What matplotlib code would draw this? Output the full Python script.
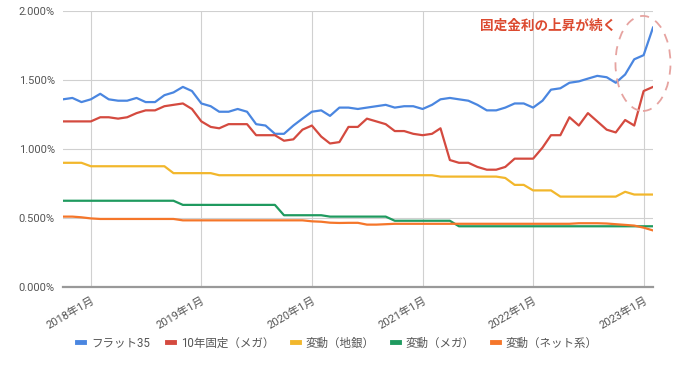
import numpy as np
import pandas as pd
import matplotlib
matplotlib.use("Agg")
import matplotlib.pyplot as plt
import matplotlib.dates as mdates
from matplotlib.patches import Ellipse

plt.rcParams['font.family'] = ['Roboto', 'Noto Sans CJK JP', 'DejaVu Sans']

# monthly, Oct 2017 - Feb 2023
start_month = '2017-10-01'

flat35 = [1.36, 1.37, 1.34, 1.36, 1.40, 1.36, 1.35, 1.35, 1.37, 1.34, 1.34, 1.39,
          1.41, 1.45, 1.42, 1.33, 1.31, 1.27, 1.27, 1.29, 1.27, 1.18, 1.17, 1.11,
          1.11, 1.17, 1.22, 1.27, 1.28, 1.24, 1.30, 1.30, 1.29, 1.30, 1.31, 1.32,
          1.30, 1.31, 1.31, 1.29, 1.32, 1.36, 1.37, 1.36, 1.35, 1.32, 1.28, 1.28,
          1.30, 1.33, 1.33, 1.30, 1.35, 1.43, 1.44, 1.48, 1.49, 1.51, 1.53, 1.52,
          1.48, 1.54, 1.65, 1.68, 1.88]

fixed10_mega = [1.20, 1.20, 1.20, 1.20, 1.23, 1.23, 1.22, 1.23, 1.26, 1.28, 1.28, 1.31,
                1.32, 1.33, 1.29, 1.20, 1.16, 1.15, 1.18, 1.18, 1.18, 1.10, 1.10, 1.10,
                1.06, 1.07, 1.14, 1.17, 1.09, 1.04, 1.05, 1.16, 1.16, 1.22, 1.20, 1.18,
                1.13, 1.13, 1.11, 1.10, 1.11, 1.15, 0.92, 0.90, 0.90, 0.87, 0.85, 0.85,
                0.87, 0.93, 0.93, 0.93, 1.01, 1.10, 1.10, 1.23, 1.17, 1.26, 1.20, 1.14,
                1.12, 1.21, 1.17, 1.42, 1.45]

var_chigin = [0.90, 0.90, 0.90, 0.875, 0.875, 0.875, 0.875, 0.875, 0.875, 0.875, 0.875, 0.875,
              0.825, 0.825, 0.825, 0.825, 0.825, 0.81, 0.81, 0.81, 0.81, 0.81, 0.81, 0.81,
              0.81, 0.81, 0.81, 0.81, 0.81, 0.81, 0.81, 0.81, 0.81, 0.81, 0.81, 0.81,
              0.81, 0.81, 0.81, 0.81, 0.81, 0.80, 0.80, 0.80, 0.80, 0.80, 0.80, 0.80,
              0.79, 0.74, 0.74, 0.70, 0.70, 0.70, 0.655, 0.655, 0.655, 0.655, 0.655, 0.655,
              0.655, 0.69, 0.67, 0.67, 0.67]

var_mega = [0.625, 0.625, 0.625, 0.625, 0.625, 0.625, 0.625, 0.625, 0.625, 0.625, 0.625, 0.625,
            0.625, 0.595, 0.595, 0.595, 0.595, 0.595, 0.595, 0.595, 0.595, 0.595, 0.595, 0.595,
            0.52, 0.52, 0.52, 0.52, 0.52, 0.51, 0.51, 0.51, 0.51, 0.51, 0.51, 0.51,
            0.48, 0.48, 0.48, 0.48, 0.48, 0.48, 0.48, 0.44, 0.44, 0.44, 0.44, 0.44,
            0.44, 0.44, 0.44, 0.44, 0.44, 0.44, 0.44, 0.44, 0.44, 0.44, 0.44, 0.44,
            0.44, 0.44, 0.44, 0.44, 0.44]

var_net = [0.51, 0.51, 0.505, 0.497, 0.493, 0.493, 0.493, 0.493, 0.493, 0.493, 0.493, 0.493,
           0.493, 0.483, 0.483, 0.483, 0.483, 0.483, 0.483, 0.483, 0.483, 0.483, 0.483, 0.483,
           0.483, 0.483, 0.483, 0.476, 0.473, 0.466, 0.464, 0.465, 0.465, 0.452, 0.452, 0.455,
           0.458, 0.458, 0.458, 0.458, 0.458, 0.458, 0.458, 0.458, 0.458, 0.458, 0.458, 0.458,
           0.458, 0.458, 0.458, 0.458, 0.458, 0.458, 0.458, 0.458, 0.462, 0.462, 0.462, 0.46,
           0.455, 0.45, 0.445, 0.43, 0.41]

labels = ['フラット35', '10年固定（メガ）', '変動（地銀）', '変動（メガ）', '変動（ネット系）']
colors = ['#4a86e0', '#d44a3f', '#f2b72c', '#1f9a5f', '#f5762a']
series = [flat35, fixed10_mega, var_chigin, var_mega, var_net]

dates = pd.date_range(start_month, periods=len(flat35), freq='MS')

fig = plt.figure(figsize=(6.93, 3.79), dpi=100)
ax = fig.add_axes([63 / 693, 1 - 287 / 379, 590 / 693, 276 / 379])

for vals, c, lab in zip(series, colors, labels):
    ax.plot(dates, vals, color=c, linewidth=1.6, label=lab, zorder=3)

ax.set_xlim(dates[0], dates[-1])
ax.set_ylim(0, 2.0)
ax.set_yticks([0, 0.5, 1.0, 1.5, 2.0])
ax.set_yticklabels(['%.3f%%' % v for v in [0, 0.5, 1.0, 1.5, 2.0]])

ax.xaxis.set_major_locator(mdates.YearLocator(month=1))
ax.xaxis.set_major_formatter(mdates.DateFormatter('%Y年1月'))
for t in ax.get_xticklabels():
    t.set_rotation(30)
    t.set_ha('right')
    t.set_rotation_mode('anchor')

ax.grid(True, color='#d0d0d0', linewidth=0.8, zorder=0)
ax.tick_params(axis='both', length=0, labelsize=8, labelcolor='#555555')
ax.tick_params(axis='y', pad=6)
ax.tick_params(axis='x', pad=6)
for s in ['top', 'right', 'left']:
    ax.spines[s].set_visible(False)
ax.spines['bottom'].set_color('#999999')
ax.spines['bottom'].set_linewidth(1.6)

# annotation
ax.text(0.937, 0.945, '固定金利の上昇が続く', transform=ax.transAxes, ha='right', va='center',
        color='#dc4a30', fontsize=9.8, fontweight='bold')
ell = Ellipse((0.983, 0.81), width=55 / 590, height=95 / 276, transform=ax.transAxes,
              fill=False, edgecolor='#e6a3a0', linestyle=(0, (5, 4)), linewidth=1.3,
              clip_on=False, zorder=4)
ax.add_patch(ell)

handles, labs = ax.get_legend_handles_labels()
leg = fig.legend(handles, labs, loc='center', bbox_to_anchor=(0.487, 1 - 343 / 379),
                 ncol=5, frameon=False, fontsize=8.3, handlelength=0.6, handletextpad=0.6,
                 columnspacing=1.5, labelcolor='#555555')
for h in leg.legend_handles:
    h.set_linewidth(3.5)

fig.savefig('out.png', dpi=100, facecolor='white')
